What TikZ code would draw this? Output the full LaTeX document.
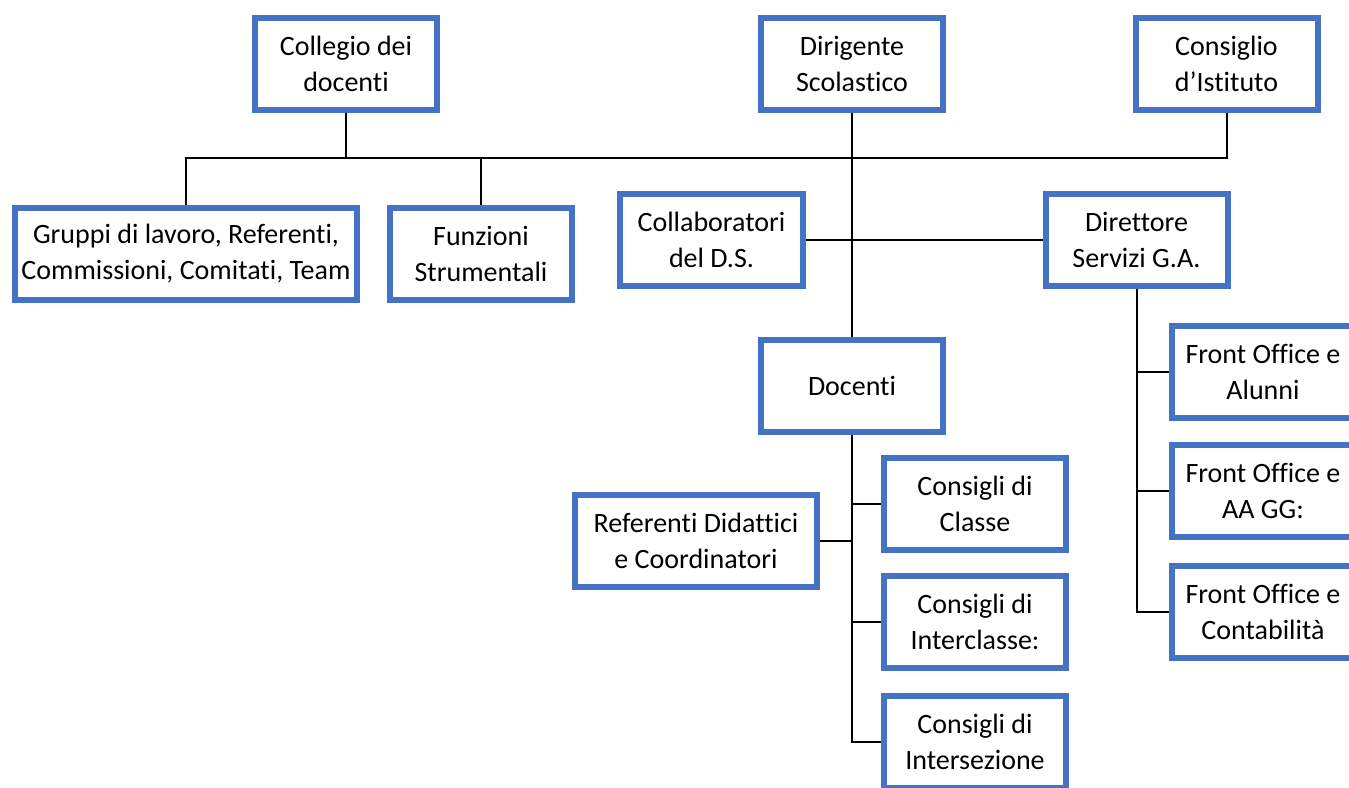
\documentclass[tikz,border=0pt]{standalone}
\usepackage{fontspec}
\setmainfont{Carlito}[Ligatures=NoCommon]
\definecolor{boxblue}{HTML}{4472C4}
\begin{document}
\begin{tikzpicture}[x=1pt,y=-1pt,
  box/.style={draw=boxblue, line width=6pt, fill=white, minimum width=182pt, minimum height=92pt, align=center, inner sep=0pt, font=\fontsize{28}{36}\selectfont},
  conn/.style={draw=black, line width=2pt}]
\useasboundingbox (0,0) rectangle (1349,787);
\clip (0,0) rectangle (1349,787);
\fill[white] (0,0) rectangle (1349,787);
% top row
\node[box] (coll) at (346,64) {Collegio dei\\docenti};
\node[box] (ds) at (852,64) {Dirigente\\Scolastico};
\node[box] (ci) at (1226.5,64) {Consiglio\\d’Istituto};
% second row
\node[box, minimum width=342pt] (grup) at (186,254) {Gruppi di lavoro, Referenti,\\Commissioni, Comitati, Team};
\node[box] (fun) at (481,254) {Funzioni\\Strumentali};
\node[box, minimum width=183pt] (colds) at (711.5,240) {Collaboratori\\del D.S.};
\node[box] (dsga) at (1136.5,240) {Direttore\\Servizi G.A.};
% docenti
\node[box] (doc) at (852,386) {Docenti};
\node[box, minimum width=242pt] (ref) at (696,541) {Referenti Didattici\\e Coordinatori};
\node[box] (cla) at (975,504) {Consigli di\\Classe};
\node[box] (icl) at (975,622) {Consigli di\\Interclasse:};
\node[box] (ise) at (975,742) {Consigli di\\Intersezione};
% front office
\node[box] (fo1) at (1263,372) {Front Office e\\Alunni};
\node[box] (fo2) at (1263,491) {Front Office e\\AA GG:};
\node[box] (fo3) at (1263,612) {Front Office e\\Contabilità};
% connectors
\coordinate (bus) at (0,158);
\draw[conn] (coll.south) -- (coll.south |- bus);
\draw[conn] (grup.north) |- (fun.north |- bus) -- (fun.north);
\draw[conn] (coll.south |- bus) -| (ci.south);
\draw[conn] (ds.south) -- (doc.north);
\draw[conn] (colds.east) -- (dsga.west);
\draw[conn] (doc.south) |- (ise.west);
\draw[conn] (doc.south) |- (cla.west);
\draw[conn] (doc.south) |- (icl.west);
\draw[conn] (ref.east) -- (ref.east -| doc.south);
\draw[conn] (dsga.south) |- (fo3.west);
\draw[conn] (dsga.south) |- (fo1.west);
\draw[conn] (dsga.south) |- (fo2.west);
\end{tikzpicture}
\end{document}
